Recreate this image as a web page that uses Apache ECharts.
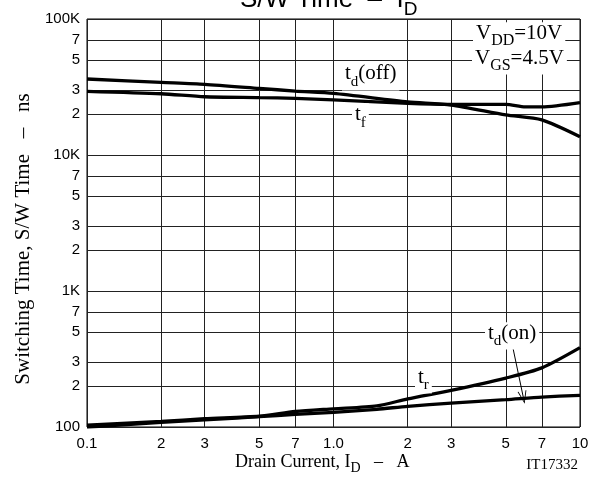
<!DOCTYPE html>
<html><head><meta charset="utf-8">
<script src="https://cdn.jsdelivr.net/npm/echarts@6/dist/echarts.min.js"></script>
<style>html,body{margin:0;padding:0;background:#fff}#c{width:602px;height:479px}</style>
</head><body><div id="c"></div>
<script>
// ---- data ----
const xTickValues = [0.1,0.2,0.3,0.5,0.7,1,2,3,5,7,10];
const xTickLabels = ['0.1','2','3','5','7','1.0','2','3','5','7','10'];
const yTickValues = [100,200,300,500,700,1000,2000,3000,5000,7000,10000,20000,30000,50000,70000,100000];
const yTickLabels = ['100','2','3','5','7','1K','2','3','5','7','10K','2','3','5','7','100K'];

const currentOff = [0.1,0.2,0.3,0.5,0.7,1,2,3,5,7,10];
const tdOff = [36200,34200,33100,30900,29500,28400,24600,23300,19700,18100,13600];
const currentTf = [0.1,0.2,0.3,0.5,0.7,1,2,3,5,6,7,10];
const tf = [29400,28200,26800,26400,26100,25400,24000,23600,23600,22600,22600,24300];
const currentOn = [0.1,0.2,0.3,0.5,0.7,1,1.5,2,3,5,7,10];
const tr = [103,110,115,120,130,136,143,161,186,229,272,383];
const tdOn = [100,108,113,119,124,128,135,142,150,159,166,171];
const arrowFrom = [5.28, 424];
const arrowTo = [5.89, 165];

// ---- helpers ----
const SERIF = 'Liberation Serif';
const SANS = 'Liberation Sans';
const lg = v => Math.log10(v);
function labelFor(values, labels) {
  return function (v) {
    let best = 0, d = Infinity;
    values.forEach((t, i) => { const e = Math.abs(lg(t) - v); if (e < d) { d = e; best = i; } });
    return d < 1e-6 ? labels[best] : '';
  };
}
function pairs(xs, ys) { return xs.map((x, i) => [x, ys[i]]); }

function richLabel(parts, x, baseline, Fm, Fs, drop, family, bg, align) {
  const p = drop + 0.84 * (Fm - Fs);
  const padT = bg ? 1 : 0;
  return {
    type: 'text', x: x, y: baseline - 0.84 * Fm - padT, z: 100,
    style: {
      text: parts.map(([t, k]) => '{' + k + '|' + t + '}').join(''),
      align: align || 'left', verticalAlign: 'top',
      backgroundColor: bg ? '#fff' : 'transparent',
      padding: bg ? [1, 3, 1, 3] : 0,
      rich: {
        m: { fontSize: Fm, fontFamily: family, color: '#000', verticalAlign: 'top' },
        s: { fontSize: Fs, fontFamily: family, color: '#000', verticalAlign: 'top', padding: [p, 0, 0, 0] }
      }
    }
  };
}

const lineSeries = (name, data) => ({
  name, type: 'line', xAxisIndex: 0, yAxisIndex: 0, data, smooth: 0.25,
  showSymbol: false, symbol: 'none', lineStyle: { color: '#000', width: 3.3 }, z: 5
});

const chart = echarts.init(document.getElementById('c'), null, { renderer: 'canvas' });
chart.setOption({
  animation: false,
  backgroundColor: '#fff',
  grid: { left: 87, right: 22, top: 19, bottom: 52, show: true, borderColor: '#000', borderWidth: 1, containLabel: false },
  xAxis: [
    { type: 'log', logBase: 10, min: 0.1, max: 10, position: 'top', show: false },
    { type: 'value', min: -1, max: 1, position: 'bottom',
      axisLine: { show: false },
      axisTick: { show: false, customValues: xTickValues.map(v => Math.max(-1, Math.min(1, lg(v)))) },
      axisLabel: { show: true, margin: 9, fontFamily: SANS, fontSize: 15, color: '#000',
        customValues: xTickValues.map(v => Math.max(-1, Math.min(1, lg(v)))),
        formatter: labelFor(xTickValues, xTickLabels) },
      splitLine: { show: true, lineStyle: { color: '#222', width: 1 } } }
  ],
  yAxis: [
    { type: 'log', logBase: 10, min: 100, max: 100000, position: 'right', show: false },
    { type: 'value', min: 2, max: 5, position: 'left',
      axisLine: { show: false },
      axisTick: { show: false, customValues: yTickValues.map(v => Math.max(2, Math.min(5, lg(v)))) },
      axisLabel: { show: true, margin: 7, fontFamily: SANS, fontSize: 15, color: '#000',
        customValues: yTickValues.map(v => Math.max(2, Math.min(5, lg(v)))),
        formatter: labelFor(yTickValues, yTickLabels) },
      splitLine: { show: true, lineStyle: { color: '#222', width: 1 } } }
  ],
  series: [
    lineSeries('td(off)', pairs(currentOff, tdOff)),
    lineSeries('tf', pairs(currentTf, tf)),
    lineSeries('tr', pairs(currentOn, tr)),
    Object.assign(lineSeries('td(on)', pairs(currentOn, tdOn)), {
      markLine: {
        silent: true, animation: false,
        symbol: ['none', 'path://M0,12 L5,0 L10,12 L9,12 L5,2.5 L1,12 Z'],
        symbolSize: [9, 13],
        lineStyle: { color: '#000', width: 1, type: 'solid' },
        label: { show: false },
        data: [[{ coord: arrowFrom }, { coord: arrowTo }]]
      }
    })
  ],
  graphic: [
    richLabel([['S/W Time  –  I', 'm'], ['D', 's']], 240, 9, 26, 19, 7, SANS, false),
    richLabel([['V', 'm'], ['DD', 's'], ['=10V', 'm']], 473, 41, 21, 16, 5, SERIF, true),
    richLabel([['V', 'm'], ['GS', 's'], ['=4.5V', 'm']], 472, 66, 21, 16, 5, SERIF, true),
    richLabel([['t', 'm'], ['d', 's'], ['(off)', 'm']], 342, 81, 21, 15, 6, SERIF, true),
    richLabel([['t', 'm'], ['f', 's']], 352, 122, 21, 15, 6, SERIF, true),
    richLabel([['t', 'm'], ['d', 's'], ['(on)', 'm']], 485, 341, 21, 15, 5, SERIF, true),
    richLabel([['t', 'm'], ['r', 's']], 415, 385, 21, 15, 5, SERIF, true),
    richLabel([['Drain Current, I', 'm'], ['D', 's'], ['   –   A', 'm']], 235, 468, 18, 14, 5, SERIF, false),
    richLabel([['IT17332', 'm']], 578, 470, 15, 15, 0, SERIF, false, 'right'),
    { type: 'text', x: 23, y: 239, rotation: Math.PI / 2, z: 100,
      style: { text: 'Switching Time, S/W Time   –   ns', fontFamily: SERIF, fontSize: 21, fill: '#000',
        align: 'center', verticalAlign: 'middle' } }
  ]
});
</script></body></html>
